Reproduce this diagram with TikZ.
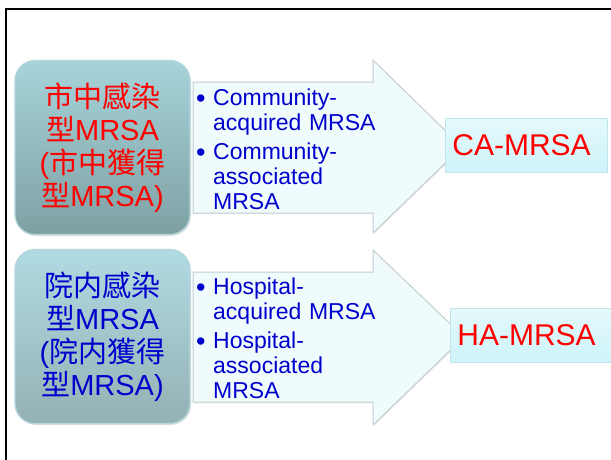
\documentclass[tikz,border=0pt]{standalone}
\usepackage{fontspec}
\setmainfont{Liberation Sans}
\newfontfamily\cjkfont{Noto Sans CJK TC}
\usepackage{xcolor}
\usetikzlibrary{positioning, shadows}
\definecolor{TealTop}{RGB}{166,212,218}
\definecolor{TealBottom}{RGB}{126,160,163}
\definecolor{TealTopB}{RGB}{176,219,226}
\definecolor{TealBottomB}{RGB}{148,177,180}
\definecolor{TealRim}{RGB}{178,214,219}
\definecolor{ArrowFill}{RGB}{240,251,253}
\definecolor{ArrowLine}{RGB}{196,206,207}
\definecolor{PaleTop}{RGB}{228,249,251}
\definecolor{PaleBottom}{RGB}{206,244,249}
\definecolor{PaleRim}{RGB}{192,229,234}
\definecolor{ItemBlue}{RGB}{0,0,204}
\newcommand{\bitem}[1]{\noindent\makebox[17pt][l]{\raisebox{-2.2pt}{\fontsize{27}{27}\selectfont •}}%
    \begin{tabular}[t]{@{}l@{}}#1\end{tabular}\par}

\begin{document}
\begin{tikzpicture}[x=1pt, y=-1pt,
    srcbox/.style={draw=TealRim, line width=1.2pt, rounded corners=20pt,
        minimum width=175pt, minimum height=174pt, inner sep=0pt, align=center,
        font=\fontsize{29}{33}\selectfont,
        drop shadow={opacity=0.25, shadow xshift=1pt, shadow yshift=-1.5pt}},
    blockarrow/.style={draw=ArrowLine, line width=1pt, fill=ArrowFill, line join=miter,
        drop shadow={opacity=0.15, shadow xshift=1pt, shadow yshift=-1pt}},
    itemtext/.style={text=ItemBlue, font=\fontsize{23}{25}\selectfont,
        text width=190pt, align=left, inner sep=0pt, anchor=north west},
    resultbox/.style={draw=PaleRim, line width=0.8pt, top color=PaleTop, bottom color=PaleBottom,
        minimum height=54pt, inner xsep=7pt, inner ysep=0pt, align=left,
        font=\fontsize{30}{30}\selectfont, text=red, anchor=west}]
    \useasboundingbox (0,0) rectangle (611,459);
    \fill[white] (0,0) rectangle (611,459);
    \draw[line width=2pt] (6,470) -- (6,9) -- (620,9);

    % community row
    \draw[blockarrow] (193,82) -- (373,82) -- (373,60) -- (462,147) -- (373,233) -- (373,213) -- (193,213) -- cycle;
    \node[srcbox, top color=TealTop, bottom color=TealBottom, text=red] (comm) at (102.5,147.5)
        {{\cjkfont 市中感染}\\{\cjkfont 型}MRSA\\({\cjkfont 市中獲得}\\{\cjkfont 型}MRSA)};
    \node[itemtext] (commtxt) at (196,88)
        {\bitem{Community-\\acquired MRSA}\vspace{2.5pt}\bitem{Community-\\associated\\MRSA}};
    \node[resultbox, text width=148pt] (ca) at (445,145) {CA-MRSA};

    % hospital row
    \draw[blockarrow] (193,272) -- (373,272) -- (373,250) -- (464,337) -- (373,425) -- (373,402) -- (193,402) -- cycle;
    \node[srcbox, top color=TealTopB, bottom color=TealBottomB, text=ItemBlue] (hosp) at (102.5,336.5)
        {{\cjkfont 院内感染}\\{\cjkfont 型}MRSA\\({\cjkfont 院内獲得}\\{\cjkfont 型}MRSA)};
    \node[itemtext] (hosptxt) at (196,277)
        {\bitem{Hospital-\\acquired MRSA}\vspace{2.5pt}\bitem{Hospital-\\associated\\MRSA}};
    \node[resultbox, text width=152pt] (ha) at (450,335) {HA-MRSA};
\end{tikzpicture}
\end{document}
